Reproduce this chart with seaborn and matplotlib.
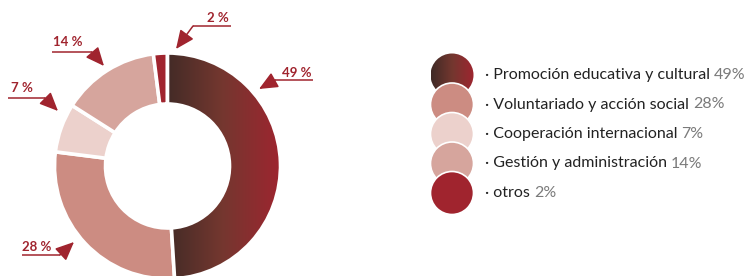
import numpy as np
import matplotlib
matplotlib.use("Agg")
import matplotlib.pyplot as plt
import seaborn as sns
from matplotlib.patches import Circle
from matplotlib.colors import LinearSegmentedColormap

# ---- data ----
categories = ["Promoción educativa y cultural", "Voluntariado y acción social",
              "Cooperación internacional", "Gestión y administración", "otros"]
values = [49, 28, 7, 14, 2]
pct_labels = ["49 %", "28 %", "7 %", "14 %", "2 %"]
legend_pcts = ["49%", "28%", "7%", "14%", "2%"]
colors = ["#6b2f2d", "#cc8c82", "#ecd1cc", "#d6a59d", "#a0242e"]
grad_colors = ["#3f2a26", "#74372f", "#9e2530"]
accent = "#a0242e"

sns.set_theme(style="white")
plt.rcParams['font.family'] = ['Lato', 'DejaVu Sans']

W_PX, H_PX = 745, 276
fig = plt.figure(figsize=(W_PX / 100, H_PX / 100), dpi=100)
ax = fig.add_axes([0, 0, 1, 1])


def P(x, y):
    """pixel (y down) -> data (y up)"""
    return (x, H_PX - y)


cx, cy = P(167.5, 166)
R, WIDTH = 113, 51
grad = LinearSegmentedColormap.from_list("g", grad_colors)

wedges, _ = ax.pie(values, colors=colors, startangle=90, counterclock=False,
                   center=(cx, cy), radius=R,
                   wedgeprops=dict(width=WIDTH, edgecolor="white", linewidth=2.6))

# gradient fill for the first wedge
img = ax.imshow(np.linspace(0, 1, 256)[None, :], cmap=grad,
                extent=(cx - 5, cx + R, cy - R, cy + R), aspect="auto", zorder=1.5,
                interpolation="bilinear")
img.set_clip_path(wedges[0])
wedges[0].set_facecolor("none")
wedges[0].set_zorder(2)

# percentage callouts: (text x, text y center, underline y, x_start, x_bend, tip)
callouts = {
    "49 %": dict(tx=282, ty=73, uy=80, x0=313, xb=275, tip=(259, 89)),
    "2 %": dict(tx=207, ty=18, uy=26, x0=231, xb=193, tip=(176, 49)),
    "14 %": dict(tx=53, ty=42, uy=52, x0=52, xb=92, tip=(104, 66)),
    "7 %": dict(tx=11, ty=88, uy=98, x0=8, xb=45, tip=(58, 111)),
    "28 %": dict(tx=22, ty=247, uy=255, x0=22, xb=60, tip=(74, 242)),
}
for lab in pct_labels:
    c = callouts[lab]
    ax.text(*P(c["tx"], c["ty"]), lab, fontsize=9.5, fontweight="bold", color=accent,
            ha="left", va="center")
    ax.plot([P(c["x0"], 0)[0], c["xb"]], [P(0, c["uy"])[1]] * 2, color=accent, lw=1.1,
            solid_capstyle="butt")
    ax.annotate("", xy=P(*c["tip"]), xytext=P(c["xb"], c["uy"]),
                arrowprops=dict(arrowstyle="-|>,head_length=0.95,head_width=0.42",
                                color=accent, lw=1.1, shrinkA=0, shrinkB=0))

# legend
lx, ly0, dy, lr = 452, 75, 29.5, 21.5
for i, (cat, pct, col) in enumerate(zip(categories, legend_pcts, colors)):
    x, y = P(lx, ly0 + i * dy)
    circ = Circle((x, y), lr, facecolor=col, edgecolor="white", lw=1.2, zorder=3 + i)
    ax.add_patch(circ)
    if i == 0:
        gimg = ax.imshow(np.linspace(0, 1, 256)[None, :], cmap=grad,
                         extent=(x - lr, x + lr, y - lr, y + lr), aspect="auto",
                         zorder=3.05, interpolation="bilinear")
        gimg.set_clip_path(circ)
    t = ax.text(485, y, "· " + cat + " ", fontsize=11.5, color="#222222",
                ha="left", va="center", zorder=10)
    ax.annotate(pct, xy=(1, 0), xycoords=t, ha="left", va="bottom",
                fontsize=11.5, color="#7a7a7a", zorder=10)

ax.set_xlim(0, W_PX)
ax.set_ylim(0, H_PX)
ax.set_aspect("auto")
ax.axis("off")

fig.savefig("out.png", dpi=100)
